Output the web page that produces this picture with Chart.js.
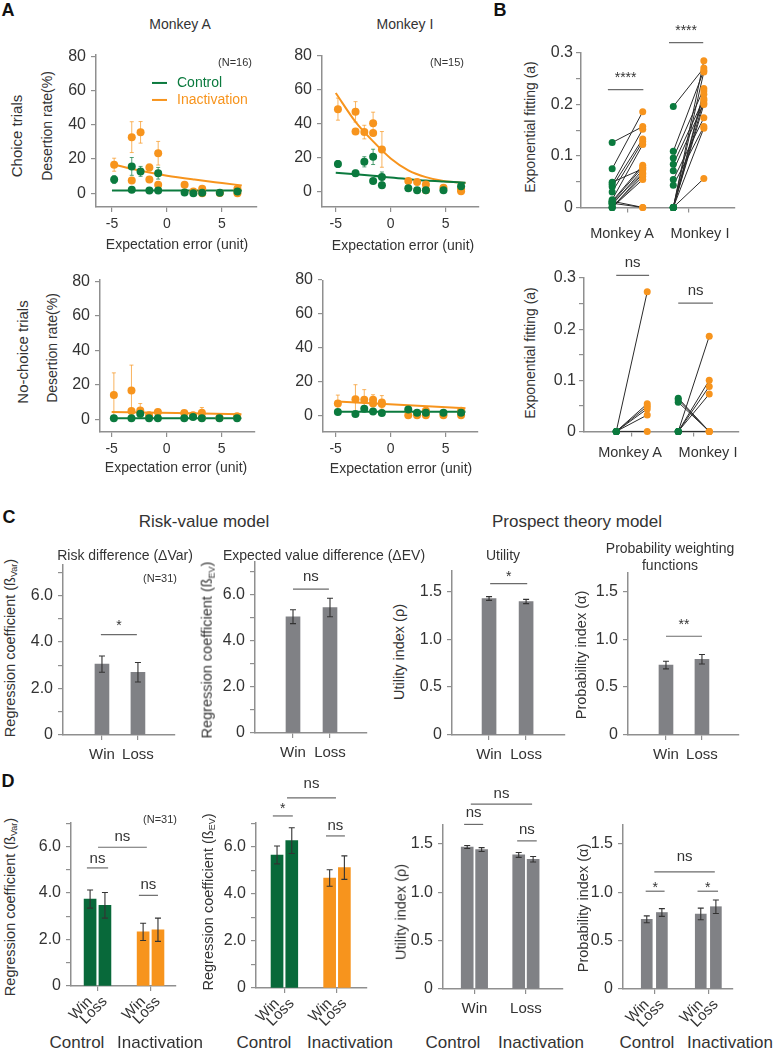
<!DOCTYPE html>
<html>
<head>
<meta charset="utf-8">
<script src="https://cdn.jsdelivr.net/npm/chart.js@4.4.1/dist/chart.umd.min.js"></script>
<style>
  html, body { margin: 0; padding: 0; background: #fff; }
  #fig { position: relative; width: 773px; height: 1050px; overflow: hidden; background: #fff;
         font-family: "Liberation Sans", Arial, sans-serif; color: #333; }
  #fig canvas { position: absolute; }
  .t { position: absolute; white-space: nowrap; line-height: 1.15; }
  .t sub { font-size: 0.62em; vertical-align: -0.3em; line-height: 0; }
  .ln { display: inline-block; width: 15px; border-top: 2px solid; vertical-align: middle; margin-right: 10px; }
</style>
</head>
<body>
<div id="fig"></div>
<script>
// ---------- data ----------
// Panel A: expectation error bins shared by all four scatter plots
const EE = [-4.8, -3.2, -2.4, -1.6, -0.8, 1.6, 2.4, 3.2, 4.8, 6.4];
const A_XTICKS = [-5, 0, 5];
const A_YTICKS = [0, 20, 40, 60, 80];

// Monkey A, choice trials (desertion rate %)
const aChoiceCtrl     = [8.0, 15.7, 12.8, 1.7, 11.7, 0.4, 0.0, 0.3, 0.3, 1.0];
const aChoiceCtrlErr  = [2.3, 5.2, 2.9, 0.6, 3.4, 0.5, 0.3, 0.3, 0.3, 0.6];
const aChoiceCtrl2    = [null, 2.1, null, null, 1.7, null, null, null, null, null];
const aChoiceInact    = [16.7, 32.8, 35.6, 15.1, 23.4, 5.0, 1.1, 2.7, 0.2, 2.7];
const aChoiceInactErr = [3.8, 9.0, 6.3, 2.0, 6.9, 1.2, 0.6, 1.0, 0.3, 1.0];
const aChoiceInact2   = [null, 7.5, null, 8.0, 5.0, null, null, 0.0, null, 0.0];
const aChoiceFitX     = [-5, -2.5, 0, 2.5, 5, 6.8];
const aChoiceFitInact = [17.1, 13.3, 10.3, 8.0, 6.0, 4.6];
const aChoiceFitCtrl  = [1.7, 1.7, 1.7, 1.7, 1.7, 1.7];

// Monkey I, choice trials
const iChoiceCtrl     = [16.2, 10.8, 17.5, 20.4, 8.5, 1.9, 0.8, 0.8, 0.8, 3.1];
const iChoiceCtrlErr  = [2.0, 1.8, 3.0, 4.5, 3.0, 0.5, 0.3, 0.3, 0.3, 1.0];
const iChoiceCtrl2    = [null, null, null, 6.2, 3.7, null, null, null, null, null];
const iChoiceInact    = [48.5, 46.9, 35.0, 40.2, 24.8, 6.2, 5.6, 4.2, 2.3, 1.2];
const iChoiceInactErr = [6.5, 6.0, 4.0, 6.5, 10.5, 1.0, 1.0, 1.5, 0.6, 0.6];
const iChoiceInact2   = [null, 35.4, null, 34.4, null, null, null, 0.8, null, 0.2];
const iChoiceFitX     = [-5, -3.2, -1.6, 0, 1.6, 3.2, 4.8, 6.8];
const iChoiceFitInact = [58, 41, 29.5, 19.5, 12.5, 8.5, 6.2, 5.0];
const iChoiceFitCtrl  = [11, 10.2, 9.3, 8.2, 7.3, 6.5, 5.9, 5.2];

// Monkey A, no-choice trials
const aFreeCtrl     = [0.6, 0.6, 3.2, 0.6, 0.6, 0.6, 1.3, 0.6, 0.6, 0.6];
const aFreeCtrlErr  = [0.4, 0.4, 1.5, 0.4, 0.4, 0.4, 0.6, 0.4, 0.4, 0.4];
const aFreeCtrl2    = [null, null, null, null, null, null, null, null, null, null];
const aFreeInact    = [14.1, 16.6, 5.1, 2.3, 4.2, 3.6, 2.3, 3.8, 0.8, 1.7];
const aFreeInactErr = [12.8, 14.8, 4.0, 1.0, 1.2, 1.2, 0.6, 3.0, 0.4, 0.6];
const aFreeInact2   = [null, 4.8, null, null, null, null, null, 0.8, null, null];
const aFreeFitX     = [-5, 6.8];
const aFreeFitInact = [4.2, 2.9];
const aFreeFitCtrl  = [0.6, 0.6];

// Monkey I, no-choice trials
const iFreeCtrl     = [2.0, 0.8, 3.9, 2.3, 1.4, 3.5, 1.5, 1.5, 1.5, 1.5];
const iFreeCtrlErr  = [0.6, 0.8, 1.5, 1.0, 1.0, 0.8, 0.5, 0.5, 0.5, 0.5];
const iFreeCtrl2    = [null, null, null, null, null, null, null, null, null, null];
const iFreeInact    = [6.9, 9.5, 9.1, 9.1, 7.6, 0.0, 0.0, 2.7, 0.0, 2.7];
const iFreeInactErr = [5.0, 8.5, 6.0, 3.0, 4.0, 0.3, 0.3, 1.0, 0.3, 1.0];
const iFreeInact2   = [null, null, null, 7.0, 6.6, null, null, 0.0, null, 0.0];
const iFreeFitX     = [-5, 6.8];
const iFreeFitInact = [8.2, 4.1];
const iFreeFitCtrl  = [2.1, 2.1];

// Panel B: exponential fitting (a), paired sessions control -> inactivation
const B_YTICKS  = [0, 0.05, 0.1, 0.15, 0.2, 0.25, 0.3];
const B_YLABELS = ['0', '', '0.1', '', '0.2', '', '0.3'];
const bChoiceACtrl  = [0.126, 0.075, 0.045, 0.040, 0.030, 0.015, 0.012, 0.010, 0.008, 0.005, 0, 0, 0.012, 0.049, 0, 0.008];
const bChoiceAInact = [0.157, 0.186, 0.152, 0.133, 0.128, 0.122, 0.082, 0.078, 0.067, 0.073, 0.060, 0.054, 0, 0.075, 0.065, 0];
const bChoiceICtrl  = [0.196, 0.109, 0.096, 0.084, 0.071, 0.054, 0.043, 0, 0, 0, 0, 0, 0, 0, 0];
const bChoiceIInact = [0.271, 0.266, 0.231, 0.211, 0.203, 0.174, 0.157, 0.056, 0.285, 0.263, 0.226, 0.208, 0.154, 0.200, 0.220];
const bFreeACtrl    = [0, 0, 0, 0, 0, 0];
const bFreeAInact   = [0.273, 0.054, 0.049, 0.044, 0.032, 0];
const bFreeICtrl    = [0, 0, 0, 0, 0.065, 0.062, 0.057, 0];
const bFreeIInact   = [0.186, 0.100, 0.088, 0.073, 0, 0, 0, 0];

// Panel C: Win / Loss model coefficients
const WIN_LOSS = ['Win', 'Loss'];
const cVar  = [3.05, 2.70];   const cVarErr  = [0.35, 0.42];
const cEv   = [5.04, 5.44];   const cEvErr   = [0.30, 0.40];
const cUtil = [1.424, 1.393]; const cUtilErr = [0.020, 0.022];
const cProb = [0.73, 0.79];   const cProbErr = [0.040, 0.050];

// Panel D: control vs inactivation, Win / Loss
const dVarCtrl  = [3.74, 3.47];   const dVarCtrlErr  = [0.39, 0.55];
const dVarInact = [2.33, 2.42];   const dVarInactErr = [0.37, 0.50];
const dEvCtrl   = [5.66, 6.27];   const dEvCtrlErr   = [0.38, 0.55];
const dEvInact  = [4.68, 5.12];   const dEvInactErr  = [0.35, 0.50];
const dUtilCtrl  = [1.467, 1.440]; const dUtilCtrlErr  = [0.015, 0.020];
const dUtilInact = [1.385, 1.340]; const dUtilInactErr = [0.025, 0.028];
const dProbCtrl  = [0.72, 0.79];  const dProbCtrlErr  = [0.035, 0.040];
const dProbInact = [0.775, 0.85]; const dProbInactErr = [0.060, 0.070];

const BIG_YTICKS = [0, 1, 2, 3, 4, 5, 6, 7];
const BIG_YLABELS = ['0', '', '2.0', '', '4.0', '', '6.0', ''];
const SMALL_YTICKS = [0, 0.5, 1.0, 1.5];
const SMALL_YLABELS = ['0', '0.5', '1.0', '1.5'];

// ---------- style ----------
const GREEN = '#0b7a3e';
const GREEN_BAR = '#08693a';
const ORANGE = '#f7941d';
const GRAY_BAR = '#808185';
const AXIS = '#8f8f8f';
const FONT = '"Liberation Sans", Arial, sans-serif';
const B_SHIFT = 0.25;   // control / inactivation offset around each monkey
const D_SHIFT = 0.14;   // win / loss offset around each group

Chart.defaults.font.family = FONT;
Chart.defaults.color = '#333';

// error bars drawn from dataset.errors through the y scale
function drawErrors(chart, onTop) {
    const ctx = chart.ctx;
    const ys = chart.scales.y;
    chart.data.datasets.forEach((ds, i) => {
        if (!ds.errors || !!ds.errorsOnTop !== onTop) return;
        const meta = chart.getDatasetMeta(i);
        ctx.save();
        ctx.strokeStyle = ds.errorColor;
        ctx.lineWidth = ds.errorWidth || 1;
        meta.data.forEach((el, j) => {
            const v = ds.data[j] ? ds.data[j].y : null;
            const e = ds.errors[j];
            if (v == null || !e) return;
            const top = ys.getPixelForValue(v + e);
            const bot = ys.getPixelForValue(v - e);
            const cap = ds.errorCap || 2.5;
            ctx.beginPath();
            ctx.moveTo(el.x, top); ctx.lineTo(el.x, bot);
            ctx.moveTo(el.x - cap, top); ctx.lineTo(el.x + cap, top);
            ctx.moveTo(el.x - cap, bot); ctx.lineTo(el.x + cap, bot);
            ctx.stroke();
        });
        ctx.restore();
    });
}

const errorBars = {
    id: 'errorBars',
    beforeDatasetsDraw(chart) { drawErrors(chart, false); },
    afterDatasetsDraw(chart) { drawErrors(chart, true); }
};

// significance brackets placed in data units
const sigBars = {
    id: 'sigBars',
    afterDraw(chart, args, opts) {
        const items = opts.items || [];
        if (!items.length) return;
        const ctx = chart.ctx;
        const xs = chart.scales.x, ys = chart.scales.y;
        ctx.save();
        items.forEach(s => {
            const x1 = xs.getPixelForValue(s.x1), x2 = xs.getPixelForValue(s.x2);
            const py = ys.getPixelForValue(s.y);
            ctx.strokeStyle = '#6b6b6b';
            ctx.lineWidth = 1.2;
            ctx.beginPath(); ctx.moveTo(x1, py); ctx.lineTo(x2, py); ctx.stroke();
            const star = s.text.includes('*');
            const size = star ? 14 : 15;
            ctx.font = size + 'px ' + FONT;
            ctx.fillStyle = '#333';
            ctx.textAlign = 'center';
            ctx.textBaseline = 'alphabetic';
            ctx.fillText(s.text, (x1 + x2) / 2, py - s.dy + (star ? 0.57 : 0.26) * size);
        });
        ctx.restore();
    }
};

Chart.register(errorBars, sigBars);

const fig = document.getElementById('fig');

function axis(o) {
    return {
        type: 'linear',
        min: o.min, max: o.max,
        offset: false,
        afterBuildTicks: s => { s.ticks = o.ticks.map(v => ({ value: v })); },
        ticks: {
            autoSkip: false,
            callback: (v, i) => o.labels ? o.labels[i] : String(v),
            font: { size: o.font || 16 },
            color: '#333',
            padding: o.pad != null ? o.pad : 5,
            minRotation: o.rot || 0,
            maxRotation: o.rot || 0
        },
        grid: { offset: false, drawOnChartArea: false, tickLength: 5, lineWidth: 1.2,
                color: AXIS, tickColor: o.tickColor || AXIS },
        border: { color: AXIS, width: 1.5 }
    };
}

function makeChart(box, type, datasets, xAxis, yAxis, sig) {
    const padL = box.padL != null ? box.padL : 42;
    const padT = box.padT != null ? box.padT : 12;
    const padR = box.padR != null ? box.padR : 10;
    const padB = box.padB != null ? box.padB : 30;
    const w = Math.round(box.R - box.L + padL + padR);
    const h = Math.round(box.B - box.T + padT + padB);
    const cv = document.createElement('canvas');
    cv.width = w; cv.height = h;
    cv.style.left = (box.L - padL) + 'px';
    cv.style.top = (box.T - padT) + 'px';
    cv.style.width = w + 'px';
    cv.style.height = h + 'px';
    fig.appendChild(cv);
    xAxis.afterFit = s => { s.height = padB; };
    yAxis.afterFit = s => { s.width = padL; };
    return new Chart(cv, {
        type: type,
        data: { datasets: datasets },
        options: {
            responsive: false,
            animation: false,
            devicePixelRatio: 1,
            layout: { padding: { top: padT, right: padR, left: 0, bottom: 0 } },
            scales: { x: xAxis, y: yAxis },
            plugins: { legend: { display: false }, tooltip: { enabled: false }, sigBars: { items: sig || [] } }
        }
    });
}

// Panel A scatter: binned desertion rates with error bars and fitted curves
function aPanel(box, xr, yr, s) {
    const pts = ys => EE.map((x, i) => ({ x: x, y: ys[i] }));
    const dot = (ys, errs, color) => ({
        data: pts(ys), errors: errs, errorColor: color, errorCap: 2,
        backgroundColor: color, borderWidth: 0, pointRadius: 4, clip: false, order: 0
    });
    const fit = (xs, ys, color) => ({
        data: xs.map((x, i) => ({ x: x, y: ys[i] })), showLine: true, borderColor: color,
        borderWidth: 2, pointRadius: 0, tension: 0.4, cubicInterpolationMode: 'monotone', order: 1
    });
    const ds = [
        dot(s.ctrl, s.ctrlErr, GREEN),
        dot(s.ctrl2, null, GREEN),
        dot(s.inact, s.inactErr, ORANGE),
        dot(s.inact2, null, ORANGE),
        fit(s.fitX, s.fitCtrl, GREEN),
        fit(s.fitX, s.fitInact, ORANGE)
    ];
    ds[0].errorColor = 'rgba(11,122,62,0.7)';
    ds[2].errorColor = 'rgba(247,148,29,0.7)';
    makeChart(box, 'scatter', ds,
        axis({ min: xr[0], max: xr[1], ticks: A_XTICKS, font: 14, pad: 4 }),
        axis({ min: yr[0], max: yr[1], ticks: A_YTICKS, font: 16 }));
}

aPanel({ L: 96, T: 52, R: 257, B: 207, padL: 40 }, [-6.45, 8.18], [-8.0, 81], {
    ctrl: aChoiceCtrl, ctrlErr: aChoiceCtrlErr, ctrl2: aChoiceCtrl2,
    inact: aChoiceInact, inactErr: aChoiceInactErr, inact2: aChoiceInact2,
    fitX: aChoiceFitX, fitCtrl: aChoiceFitCtrl, fitInact: aChoiceFitInact });
aPanel({ L: 322, T: 53, R: 479, B: 207, padL: 40 }, [-6.25, 8.03], [-9.1, 80], {
    ctrl: iChoiceCtrl, ctrlErr: iChoiceCtrlErr, ctrl2: iChoiceCtrl2,
    inact: iChoiceInact, inactErr: iChoiceInactErr, inact2: iChoiceInact2,
    fitX: iChoiceFitX, fitCtrl: iChoiceFitCtrl, fitInact: iChoiceFitInact });
aPanel({ L: 100, T: 277, R: 255, B: 432, padL: 40 }, [-6.06, 8.03], [-7.4, 81], {
    ctrl: aFreeCtrl, ctrlErr: aFreeCtrlErr, ctrl2: aFreeCtrl2,
    inact: aFreeInact, inactErr: aFreeInactErr, inact2: aFreeInact2,
    fitX: aFreeFitX, fitCtrl: aFreeFitCtrl, fitInact: aFreeFitInact });
aPanel({ L: 323, T: 278, R: 478, B: 432, padL: 40 }, [-6.15, 7.94], [-9.8, 79.2], {
    ctrl: iFreeCtrl, ctrlErr: iFreeCtrlErr, ctrl2: iFreeCtrl2,
    inact: iFreeInact, inactErr: iFreeInactErr, inact2: iFreeInact2,
    fitX: iFreeFitX, fitCtrl: iFreeFitCtrl, fitInact: iFreeFitInact });

// Panel B: paired control/inactivation fits per session
function bPanel(box, xr, groups, sig) {
    const ds = [];
    groups.forEach(g => {
        g.ctrl.forEach((v, i) => ds.push({
            data: [{ x: g.x - B_SHIFT, y: v }, { x: g.x + B_SHIFT, y: g.inact[i] }],
            showLine: true, borderColor: '#2a2a2a', borderWidth: 1, pointRadius: 0, order: 1, clip: false
        }));
        ds.push({ data: g.ctrl.map(v => ({ x: g.x - B_SHIFT, y: v })), backgroundColor: GREEN,
                  borderWidth: 0, pointRadius: 3.5, order: 0, clip: false });
        ds.push({ data: g.inact.map(v => ({ x: g.x + B_SHIFT, y: v })), backgroundColor: ORANGE,
                  borderWidth: 0, pointRadius: 3.5, order: 0, clip: false });
    });
    makeChart(box, 'scatter', ds,
        axis({ min: xr[0], max: xr[1], ticks: [1, 2], labels: ['', ''] }),
        axis({ min: 0, max: 0.3, ticks: B_YTICKS, labels: B_YLABELS, font: 16, pad: 3 }), sig);
}

bPanel({ L: 581, T: 53, R: 735, B: 208, padL: 40, padT: 42, padR: 8, padB: 12 }, [0.24, 2.76], [
    { x: 1, ctrl: bChoiceACtrl, inact: bChoiceAInact },
    { x: 2, ctrl: bChoiceICtrl, inact: bChoiceIInact }
], [
    { x1: 0.68, x2: 1.26, y: 0.229, text: '****', dy: 16 },
    { x1: 1.68, x2: 2.24, y: 0.320, text: '****', dy: 16 }
]);
bPanel({ L: 584, T: 278, R: 739, B: 432, padL: 40, padT: 26, padR: 8, padB: 12 }, [0.23, 2.73], [
    { x: 1, ctrl: bFreeACtrl, inact: bFreeAInact },
    { x: 2, ctrl: bFreeICtrl, inact: bFreeIInact }
], [
    { x1: 0.75, x2: 1.28, y: 0.305, text: 'ns', dy: 12 },
    { x1: 1.75, x2: 2.31, y: 0.251, text: 'ns', dy: 12 }
]);

// Panel C / D bar charts on a linear x axis
function barPanel(box, xr, yr, yTicks, yLabels, bars, xTicks, xLabels, rot, thickness, sig) {
    const ds = bars.map(b => ({
        data: b.xs.map((x, i) => ({ x: x, y: b.vals[i] })),
        backgroundColor: b.color, barThickness: thickness, grouped: false,
        errors: b.errs, errorColor: '#333', errorWidth: 1.1, errorCap: 3, errorsOnTop: true
    }));
    const labelled = xTicks.filter((v, i) => xLabels[i] !== '');
    const tickColor = rot ? (c => labelled.includes(c.tick.value) ? 'rgba(0,0,0,0)' : AXIS) : AXIS;
    makeChart(box, 'bar', ds,
        axis({ min: xr[0], max: xr[1], ticks: xTicks, labels: xLabels, font: 15, pad: rot ? 2 : 6, rot: rot, tickColor: tickColor }),
        axis({ min: yr[0], max: yr[1], ticks: yTicks, labels: yLabels, font: 16 }), sig);
}

const C_X = [1, 2];
barPanel({ L: 63, T: 562, R: 175, B: 735 }, [-0.083, 3.03], [0, 7.33], BIG_YTICKS, BIG_YLABELS,
    [{ xs: C_X, vals: cVar, errs: cVarErr, color: GRAY_BAR }], C_X, WIN_LOSS, 0, 14,
    [{ x1: 0.97, x2: 1.97, y: 4.32, text: '*', dy: 13 }]);
barPanel({ L: 255, T: 559, R: 367, B: 733 }, [-0.027, 3.0], [0, 7.43], BIG_YTICKS, BIG_YLABELS,
    [{ xs: C_X, vals: cEv, errs: cEvErr, color: GRAY_BAR }], C_X, WIN_LOSS, 0, 14,
    [{ x1: 1.0, x2: 1.97, y: 6.24, text: 'ns', dy: 12 }]);
barPanel({ L: 452, T: 568, R: 565, B: 735 }, [0, 3.05], [0, 1.715], SMALL_YTICKS, SMALL_YLABELS,
    [{ xs: C_X, vals: cUtil, errs: cUtilErr, color: GRAY_BAR }], C_X, WIN_LOSS, 0, 14,
    [{ x1: 1.03, x2: 2.03, y: 1.58, text: '*', dy: 11 }]);
barPanel({ L: 628, T: 570, R: 739, B: 735 }, [-0.056, 3.03], [0, 1.694], SMALL_YTICKS, SMALL_YLABELS,
    [{ xs: C_X, vals: cProb, errs: cProbErr, color: GRAY_BAR }], C_X, WIN_LOSS, 0, 14,
    [{ x1: 1.0, x2: 2.0, y: 1.03, text: '**', dy: 15 }]);

const D_CTRL_X = [1 - D_SHIFT, 1 + D_SHIFT];
const D_INACT_X = [2 - D_SHIFT, 2 + D_SHIFT];
const D_TICKS = [1 - D_SHIFT, 1, 1 + D_SHIFT, 2 - D_SHIFT, 2, 2 + D_SHIFT];
const D_LABELS = ['Win', '', 'Loss', 'Win', '', 'Loss'];

barPanel({ L: 71, T: 820, R: 176, B: 986, padB: 42 }, [0.5, 2.48], [0, 7.03], BIG_YTICKS, BIG_YLABELS, [
    { xs: D_CTRL_X, vals: dVarCtrl, errs: dVarCtrlErr, color: GREEN_BAR },
    { xs: D_INACT_X, vals: dVarInact, errs: dVarInactErr, color: ORANGE }
], D_TICKS, D_LABELS, 45, 12, [
    { x1: 0.80, x2: 1.20, y: 5.08, text: 'ns', dy: 9 },
    { x1: 1.78, x2: 2.14, y: 3.90, text: 'ns', dy: 10 },
    { x1: 1.01, x2: 1.93, y: 5.97, text: 'ns', dy: 10 }
]);
barPanel({ L: 256, T: 823, R: 367, B: 988, padT: 50, padB: 42 }, [0.46, 2.57], [0, 7.02], BIG_YTICKS, BIG_YLABELS, [
    { xs: D_CTRL_X, vals: dEvCtrl, errs: dEvCtrlErr, color: GREEN_BAR },
    { xs: D_INACT_X, vals: dEvInact, errs: dEvInactErr, color: ORANGE }
], D_TICKS, D_LABELS, 45, 12, [
    { x1: 0.78, x2: 1.16, y: 7.32, text: '*', dy: 11 },
    { x1: 1.79, x2: 2.15, y: 6.47, text: 'ns', dy: 10 },
    { x1: 1.05, x2: 1.98, y: 8.09, text: 'ns', dy: 14 }
]);
barPanel({ L: 443, T: 825, R: 563, B: 989, padT: 42 }, [0.39, 2.72], [0, 1.694], SMALL_YTICKS, SMALL_YLABELS, [
    { xs: D_CTRL_X, vals: dUtilCtrl, errs: dUtilCtrlErr, color: GRAY_BAR },
    { xs: D_INACT_X, vals: dUtilInact, errs: dUtilInactErr, color: GRAY_BAR }
], [1, 2], WIN_LOSS, 0, 12, [
    { x1: 0.80, x2: 1.17, y: 1.70, text: 'ns', dy: 11 },
    { x1: 1.83, x2: 2.21, y: 1.53, text: 'ns', dy: 11 },
    { x1: 0.93, x2: 2.12, y: 1.91, text: 'ns', dy: 10 }
]);
barPanel({ L: 623, T: 825, R: 733, B: 989, padT: 20, padB: 42 }, [0.42, 2.457], [0, 1.694], SMALL_YTICKS, SMALL_YLABELS, [
    { xs: D_CTRL_X, vals: dProbCtrl, errs: dProbCtrlErr, color: GRAY_BAR },
    { xs: D_INACT_X, vals: dProbInact, errs: dProbInactErr, color: GRAY_BAR }
], D_TICKS, D_LABELS, 45, 11, [
    { x1: 0.84, x2: 1.19, y: 1.01, text: '*', dy: 7 },
    { x1: 1.80, x2: 2.18, y: 1.01, text: '*', dy: 7 },
    { x1: 1.00, x2: 2.12, y: 1.21, text: 'ns', dy: 15 }
]);

// ---------- text ----------
function txt(html, x, y, size, opt) {
    opt = opt || {};
    const d = document.createElement('div');
    d.className = 't';
    d.innerHTML = html;
    d.style.left = x + 'px';
    d.style.top = y + 'px';
    d.style.fontSize = size + 'px';
    let tf = opt.left ? 'translate(0,-50%)' : 'translate(-50%,-50%)';
    if (opt.rot) tf += ' rotate(-90deg)';
    d.style.transform = tf;
    if (opt.bold) { d.style.fontWeight = 'bold'; d.style.color = '#111'; }
    if (opt.color) d.style.color = opt.color;
    fig.appendChild(d);
}

// panel letters
txt('A', 8, 10, 18, { bold: true });
txt('B', 500, 10, 18, { bold: true });
txt('C', 9, 517, 18, { bold: true });
txt('D', 8, 781, 18, { bold: true });

// panel A
txt('Monkey A', 180, 24, 14);
txt('Monkey I', 405, 24, 14);
txt('(N=16)', 235, 62, 11);
txt('(N=15)', 447, 62, 11);
txt('<span class="ln" style="border-color:' + GREEN + '"></span>Control', 152, 82, 14, { left: true, color: GREEN });
txt('<span class="ln" style="border-color:' + ORANGE + '"></span>Inactivation', 152, 99, 14, { left: true, color: ORANGE });
txt('Choice trials', 17, 136, 15, { rot: true });
txt('Desertion rate(%)', 47, 126, 14, { rot: true });
txt('No-choice trials', 23, 352, 15, { rot: true });
txt('Desertion rate(%)', 52, 348, 14, { rot: true });
txt('Expectation error (unit)', 177, 244, 14);
txt('Expectation error (unit)', 403, 245, 14);
txt('Expectation error (unit)', 176, 467, 14);
txt('Expectation error (unit)', 401, 468, 14);

// panel B
txt('Exponential fitting (a)', 530, 127, 14, { rot: true });
txt('Exponential fitting (a)', 530, 353, 14, { rot: true });
txt('Monkey A', 622, 233, 14.5);
txt('Monkey I', 700, 233, 14.5);
txt('Monkey A', 630, 452, 14.5);
txt('Monkey I', 708, 452, 14.5);

// panel C
txt('Risk-value model', 204, 522, 17);
txt('Prospect theory model', 577, 522, 17);
txt('Risk difference (ΔVar)', 125, 555, 14);
txt('Expected value difference (ΔEV)', 324, 555, 14);
txt('Utility', 503, 555, 14);
txt('Probability weighting', 670, 548, 14);
txt('functions', 670, 565, 14);
txt('(N=31)', 160, 578, 11);
txt('Regression coefficient (ß<sub>Var</sub>)', 10, 648, 14.5, { rot: true });
txt('Regression coefficient (ß<sub>EV</sub>)', 207, 650, 14.5, { rot: true });
txt('Utility index (ρ)', 399, 652, 14.5, { rot: true });
txt('Probability index (α)', 581, 655, 14.5, { rot: true });

// panel D
txt('(N=31)', 160, 819, 11);
txt('Regression coefficient (ß<sub>Var</sub>)', 10, 907, 14.5, { rot: true });
txt('Regression coefficient (ß<sub>EV</sub>)', 208, 902, 14.5, { rot: true });
txt('Utility index (ρ)', 401, 912, 14.5, { rot: true });
txt('Probability index (α)', 583, 908, 14.5, { rot: true });
txt('Control', 77, 1043, 17);
txt('Inactivation', 160, 1043, 17);
txt('Control', 264, 1043, 17);
txt('Inactivation', 350, 1043, 17);
txt('Control', 453, 1043, 17);
txt('Inactivation', 541, 1043, 17);
txt('Control', 647, 1043, 17);
txt('Inactivation', 730, 1043, 17);
</script>
</body>
</html>
